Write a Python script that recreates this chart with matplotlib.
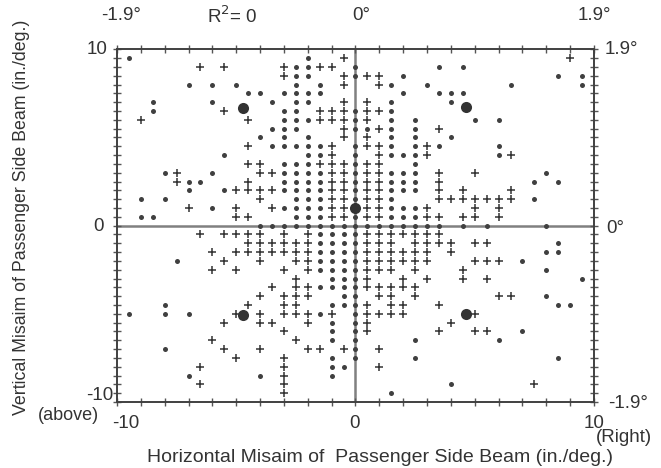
import matplotlib
matplotlib.use("Agg")
import matplotlib.pyplot as plt
import numpy as np

plt.rcParams['font.family'] = ['Liberation Sans', 'DejaVu Sans']

# ---- data: rows of the scatter (y value -> x positions), '+' marks and small dots ----
plus_rows = {
    9.5: [-0.5, 9],
    9: [-6.5, -5.5, -3, -1.5, -1],
    8.5: [-3, -0.5, 0.5, 1],
    8: [-0.5, 1],
    7: [-0.5, 0.5],
    6.5: [-5.5, -1.5, -1, -0.5, 0.5, 1],
    6: [-9, -4.5, -1.5, -1, -0.5, 0.5],
    5.5: [-0.5, 1, 3.5],
    5: [-0.5, 0.5],
    4.5: [-4.5, -1, 0.5, 1, 3],
    4: [-1, 1, 3, 6.5],
    3.5: [-4.5, -4, -1.5, -1, -0.5, 0.5, 1],
    3: [-7.5, -4, -3.5, -1, -0.5, 0.5, 1, 3.5, 5],
    2.5: [-7.5, -4.5, -1, -0.5, 0.5, 1, 3.5],
    2: [-5, -4.5, -4, -3.5, -1, -0.5, 0.5, 1, 3.5, 4.5, 6.5],
    1.5: [-4, -1, -0.5, 0.5, 1, 3.5, 4, 4.5, 5, 5.5, 6, 6.5],
    1: [-7, -5, -3.5, -1, -0.5, 0.5, 1, 3, 5, 6],
    0.5: [-5, -4.5, -1, -0.5, 0.5, 1, 3, 3.5, 4.5, 5, 6],
    -0.5: [-6.5, -5.5, -5, -4.5, -4, -3, -2, 0.5, 1, 1.5, 2, 2.5, 3, 3.5],
    -1: [-4.5, -4, -3.5, -3, -2.5, -2, 0.5, 1, 1.5, 2.5, 3, 3.5, 4, 5, 5.5],
    -1.5: [-6, -5, -4.5, -4, -3.5, -3, -2.5, -2, 0.5, 1, 1.5, 2, 2.5, 3, 4],
    -2: [-5.5, -4, -2.5, -2, 0.5, 1, 1.5, 2, 2.5, 3, 5, 5.5, 6],
    -2.5: [-6, -5, -3, -2, 0.5, 1, 1.5, 2.5, 4.5],
    -3: [-2.5, 0.5, 2, 3, 4.5, 5.5],
    -3.5: [-3.5, -2.5, -2, 0.5, 1, 1.5, 2, 2.5],
    -4: [-4, -3, -2.5, -2, 1, 1.5, 2.5, 6, 6.5],
    -4.5: [-4.5, -3, -2.5, 0.5, 1.5, 2, 3.5],
    -5: [-5, -4, -3, -2.5, -2, -1, 0.5, 1, 1.5, 2, 5],
    -5.5: [-5.5, -4, -3.5, -2, 0.5, 4],
    -6: [-3, 0.5, 3.5, 5, 5.5],
    -6.5: [-6, -2.5],
    -7: [-5.5, -4, -2, -1.5, -0.5, 1],
    -7.5: [-5, -3],
    -8: [-6.5, -3, 1],
    -8.5: [-3],
    -9: [-6.5, -3, 7.5],
    -9.5: [-3],
}
dot_rows = {
    9.5: [-9.5, -2],
    9: [-2.5, -2, 0, 3.5, 4.5],
    8.5: [-2.5, -2, 0, 2, 8.5, 9.5],
    8: [-7, -6, -5, -2.5, -1.5, 1.5, 3, 6.5, 9.5],
    7.5: [-4.5, -4, -3, -2.5, -2, -1.5, 2, 3.5, 4, 4.5],
    7: [-8.5, -6, -3.5, -2.5, -2, 1.5, 4],
    6.5: [-8.5, -3, -2.5, 0, 1.5],
    6: [-3, -2.5, -2, 0, 1.5, 2.5, 5, 6],
    5.5: [-3.5, -3, -2.5, 0, 0.5, 1.5, 2.5],
    5: [-4, -3, -2, 1.5, 2.5, 4],
    4.5: [-3.5, -3, -2.5, -2, -1.5, 0, 1.5, 2.5, 3.5, 6],
    4: [-5.5, -2, -1.5, 0, 1.5, 2, 2.5, 6],
    3.5: [-3, -2.5, -2, 0, 2.5],
    3: [-8, -6, -3, -2.5, -2, -1.5, 0, 1.5, 2, 2.5, 8],
    2.5: [-7, -6.5, -3, -2.5, -2, -1.5, 0, 1.5, 2, 2.5, 7.5, 8.5],
    2: [-7, -5.5, -3, -2.5, -2, -1.5, 0, 1.5, 2, 2.5],
    1.5: [-9, -8, -2.5, -2, -1.5, 0, 1.5, 7.5],
    1: [-6, -3, -2.5, -2, -1.5, 1.5, 2, 2.5],
    0.5: [-9, -8.5, -2.5, -2, -1.5, 0, 1.5, 2, 2.5],
    0: [-4, -3.5, -3, -2.5, -2, -1.5, -1, -0.5, 0, 0.5, 1, 1.5, 2, 2.5, 3, 3.5, 4.5, 5.5, 8],
    -0.5: [-1.5, -1, -0.5, 0],
    -1: [-1.5, -1, -0.5, 0, 8.5],
    -1.5: [-1.5, -1, -0.5, 0, 8, 8.5],
    -2: [-7.5, -1.5, -1, -0.5, 0, 7],
    -2.5: [-1.5, -1, -0.5, 0, 8],
    -3: [-1, -0.5, 0, 9.5],
    -3.5: [-1.5, -1, -0.5, 0],
    -4: [-0.5, 0, 8],
    -4.5: [-8, -1, -0.5, 0, 8.5, 9],
    -5: [-9.5, -8, -7, -1.5, 0],
    -5.5: [-1, 0],
    -6: [-1, 0, 7],
    -6.5: [-1, 0, 2.5, 6],
    -7: [-8, 0],
    -7.5: [-1, 0, 2.5, 8.5],
    -8: [-1, -0.5],
    -8.5: [-7, -4, -1],
    -9: [4],
    -9.5: [1.5],
}
big_x = [-4.7, 4.65, 0, -4.7, 4.65]
big_y = [6.65, 6.7, 1.0, -5.05, -5.0]

plus_x = [x for y, xs in plus_rows.items() for x in xs]
plus_y = [y for y, xs in plus_rows.items() for x in xs]
dot_x = [x for y, xs in dot_rows.items() for x in xs]
dot_y = [y for y, xs in dot_rows.items() for x in xs]

ink = '#333333'

fig = plt.figure(figsize=(6.61, 4.68), dpi=100)
ax = fig.add_axes([117/661, 1-402/468, (594-117)/661, (402-49.3)/468])
ax.set_xlim(-10, 10)
ax.set_ylim(-10, 10)

ax.axhline(0, color='#808080', lw=1.8, zorder=1)
ax.axvline(0, color='#808080', lw=1.8, zorder=1)

ax.plot(plus_x, plus_y, ls='none', marker='+', ms=6, mew=1.1, color=ink, zorder=3)
ax.plot(dot_x, dot_y, ls='none', marker='o', ms=3.6, mew=0, color='#404040', zorder=3)
ax.plot(big_x, big_y, ls='none', marker='o', ms=8, mew=0, color='#333333', zorder=4)

for s in ax.spines.values():
    s.set_color('#404040')
    s.set_linewidth(1.4)

ax.set_xticks(np.arange(-10, 10.01, 1))
ax.set_yticks(np.arange(-10, 10.01, 0.5))
ax.tick_params(which='both', direction='inout', length=6, width=1.0, color='#555555',
               top=True, right=True, labelbottom=False, labelleft=False)

fs = 13.5
def ftext(px, py, s, **kw):
    fig.text(px/661, 1-py/468, s, fontsize=kw.pop('fontsize', fs), color=ink, **kw)

# left tick labels
ftext(108, 49, '10', ha='right', va='center')
ftext(104, 226, '0', ha='right', va='center')
ftext(113, 396, '-10', ha='right', va='center')
ftext(99, 415, '(above)', ha='right', va='center', fontsize=13)
# bottom tick labels
ftext(126, 423, '-10', ha='center', va='center')
ftext(355, 423, '0', ha='center', va='center')
ftext(594, 423, '10', ha='center', va='center')
ftext(624, 438, '(Right)', ha='center', va='center')
# top labels
ftext(121, 16, '-1.9°', ha='center', va='center')
ftext(232, 16, r'R$^2$= 0', ha='center', va='center')
ftext(352, 16, '0°', ha='left', va='center')
ftext(594, 16, '1.9°', ha='center', va='center')
# right labels
ftext(605, 49, '1.9°', ha='left', va='center')
ftext(606, 228, '0°', ha='left', va='center')
ftext(608, 403, '-1.9°', ha='left', va='center')
# axis titles
ftext(380, 457, 'Horizontal Misaim of  Passenger Side Beam (in./deg.)', ha='center', va='center',
      fontsize=14)
ftext(22, 217, 'Vertical Misaim of Passenger Side Beam (in./deg.)', ha='center', va='center',
      rotation=90, fontsize=12.8)

fig.savefig('out.png', dpi=100)
